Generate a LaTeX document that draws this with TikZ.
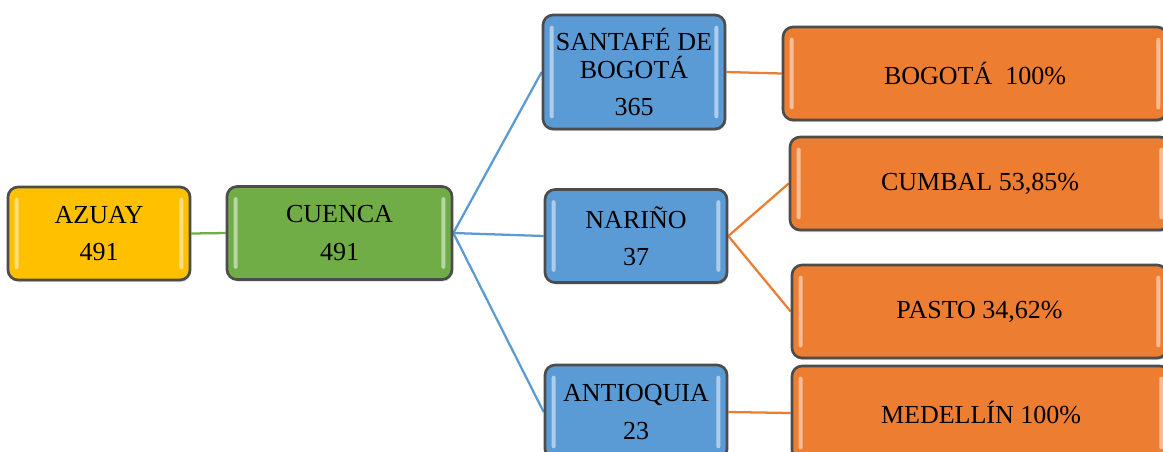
\documentclass[tikz,border=0pt]{standalone}
\usepackage{fontspec}
\setmainfont{Liberation Serif}
\usetikzlibrary{shadows,backgrounds}

\definecolor{yellowbox}{HTML}{FFC000}
\definecolor{greenbox}{HTML}{70AD47}
\definecolor{bluebox}{HTML}{5B9BD5}
\definecolor{orangebox}{HTML}{ED7D31}
\definecolor{boxline}{HTML}{4C4C4C}

\tikzset{
  region/.style={draw=boxline, line width=2pt, rounded corners=7.5pt,
    align=center, inner sep=0pt, text=black,
    font=\fontsize{19.5}{21}\selectfont,
    drop shadow={shadow xshift=0.8pt, shadow yshift=-1.5pt, opacity=0.3},
    path picture={
      \fill[white, opacity=0.5, rounded corners=1.5pt]
        ([xshift=5pt,yshift=-8pt]path picture bounding box.north west) rectangle
        ([xshift=8pt,yshift=8pt]path picture bounding box.south west);
      \fill[white, opacity=0.5, rounded corners=1.5pt]
        ([xshift=-5pt,yshift=-8pt]path picture bounding box.north east) rectangle
        ([xshift=-8pt,yshift=8pt]path picture bounding box.south east);
    }},
  link/.style={line width=1.7pt}
}

\begin{document}
\begin{tikzpicture}[x=0.75pt, y=-0.75pt]
  \useasboundingbox (0,0) rectangle (1163,451);
  \clip (0,0) rectangle (1163,451);

  %Department and city
  \begin{scope}[every node/.style={region, minimum height=69.75pt}]
    \node[fill=yellowbox, minimum width=136.5pt] (azuay) at (99,233.5) {AZUAY\\[7pt]491};
    \node[fill=greenbox, minimum width=168.75pt] (cuenca) at (339.5,233) {CUENCA\\[7pt]491};
  \end{scope}

  %Regions
  \begin{scope}[every node/.style={region, fill=bluebox, minimum width=136.5pt, minimum height=69.75pt}]
    \node[minimum height=85.5pt] (santafe) at (634,72) {SANTAF\'E DE\\BOGOT\'A\\[7pt]365};
    \node (narino) at (636,236) {NARI\~NO\\[7pt]37};
    \node[minimum height=70.5pt] (antioquia) at (636,412) {ANTIOQUIA\\[7pt]23};
  \end{scope}

  %Cities
  \begin{scope}[every node/.style={region, fill=orangebox, minimum height=69.75pt}]
    \node[minimum width=288pt] (bogota) at (975,73.5) {BOGOT\'A\ \ 100\%};
    \node[minimum width=285pt] (cumbal) at (980,183.5) {CUMBAL 53,85\%};
    \node[minimum width=281.25pt] (pasto) at (979.5,311.5) {PASTO 34,62\%};
    \node[minimum width=283.5pt, minimum height=70.5pt] (medellin) at (981,413) {MEDELL\'IN 100\%};
  \end{scope}

  \begin{scope}[on background layer]
    \path[link, draw=greenbox] (azuay.east) -- (cuenca.west);
    \path[link, draw=bluebox] (cuenca.east) edge (santafe.west)
                              (cuenca.east) edge (narino.west)
                              (cuenca.east) edge (antioquia.west);
    \path[link, draw=orangebox] (santafe.east) edge (bogota.west)
                                (narino.east) edge (cumbal.west)
                                (narino.east) edge (pasto.west)
                                (antioquia.east) edge (medellin.west);
  \end{scope}
\end{tikzpicture}
\end{document}
